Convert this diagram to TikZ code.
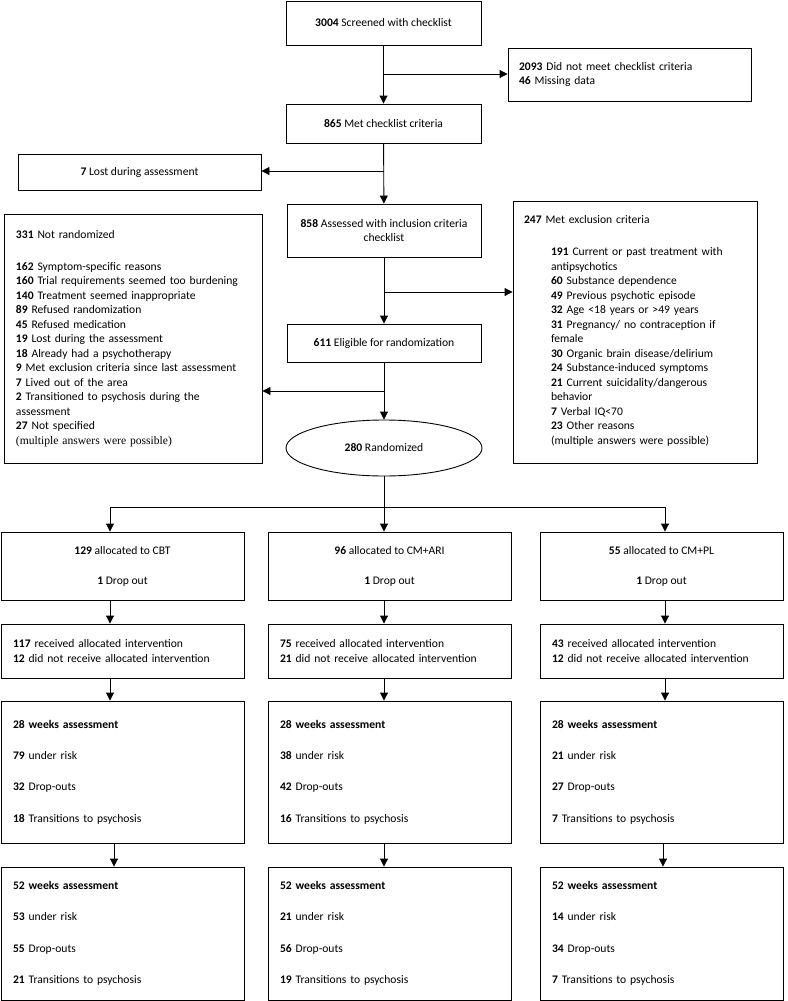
\documentclass[tikz,border=0pt]{standalone}
\usepackage{fontspec}
\setmainfont{Carlito}
\newfontfamily\timesfont{Liberation Serif}
\usetikzlibrary{arrows.meta, shapes.geometric}

\tikzset{
  box/.style={draw, line width=0.9pt, inner sep=0pt, align=center, font=\fontsize{11.6}{14.5}\selectfont},
  listbox/.style={box, align=left, inner xsep=12pt},
  arr/.style={line width=0.9pt, -{Triangle[length=8pt, width=8pt]}},
  link/.style={line width=0.9pt}
}

\begin{document}
\begin{tikzpicture}[x=1pt, y=-1pt]
\useasboundingbox (0,0) rectangle (787,1001);

% Screening
\node[box, minimum width=195pt, minimum height=44pt] (SC) at (383.5,23) {\textbf{3004} Screened with checklist};
\node[listbox, inner xsep=11pt, text width=221pt, minimum height=53pt] (DN) at (629.5,74.5)
  {\textbf{2093} Did not meet checklist criteria\\\textbf{46} Missing data};
\node[box, minimum width=195pt, minimum height=39pt] (MC) at (383.5,123.5) {\textbf{865} Met checklist criteria};
\node[box, minimum width=243pt, minimum height=36pt] (LA) at (139.5,172) {\textbf{7} Lost during assessment};
\node[box, minimum width=194pt, minimum height=53pt] (AS) at (384,230.5)
  {\textbf{858} Assessed with inclusion criteria\\checklist};
\node[box, minimum width=194pt, minimum height=38pt] (EL) at (384,343) {\textbf{611} Eligible for randomization};
\node[box, ellipse, minimum width=196pt, minimum height=56pt] (R) at (384,448) {\textbf{280} Randomized};

% Side boxes
\node[listbox, text width=234pt, minimum height=249pt] (NR) at (133,338.5)
  {\textbf{331} Not randomized\\[17.5pt]
   \textbf{162} Symptom-specific reasons\\
   \textbf{160} Trial requirements seemed too burdening\\
   \textbf{140} Treatment seemed inappropriate\\
   \textbf{89} Refused randomization\\
   \textbf{45} Refused medication\\
   \textbf{19} Lost during the assessment\\
   \textbf{18} Already had a psychotherapy\\
   \textbf{9} Met exclusion criteria since last assessment\\
   \textbf{7} Lived out of the area\\
   \textbf{2} Transitioned to psychosis during the\\
   assessment\\
   \textbf{27} Not specified\\
   {\timesfont (multiple answers were possible)}};
\node[listbox, inner xsep=11pt, text width=222pt, minimum height=262pt] (EX) at (635,332)
  {\textbf{247} Met exclusion criteria\\[17.5pt]
   \hspace*{27pt}\begin{tabular}[t]{@{}l@{}}
   \textbf{191} Current or past treatment with\\
   antipsychotics\\
   \textbf{60} Substance dependence\\
   \textbf{49} Previous psychotic episode\\
   \textbf{32} Age <18 years or >49 years\\
   \textbf{31} Pregnancy/ no contraception if\\
   female\\
   \textbf{30} Organic brain disease/delirium\\
   \textbf{24} Substance-induced symptoms\\
   \textbf{21} Current suicidality/dangerous\\
   behavior\\
   \textbf{7} Verbal IQ<70\\
   \textbf{23} Other reasons\\
   (multiple answers were possible)
   \end{tabular}};

% Allocation
\node[box, minimum width=243pt, minimum height=68pt] (C1) at (122.5,566) {\textbf{129} allocated to CBT\\[15.5pt]\textbf{1} Drop out};
\node[box, minimum width=243pt, minimum height=68pt] (C2) at (389.5,566) {\textbf{96} allocated to CM+ARI\\[15.5pt]\textbf{1} Drop out};
\node[box, minimum width=243pt, minimum height=68pt] (C3) at (661.5,566) {\textbf{55} allocated to CM+PL\\[15.5pt]\textbf{1} Drop out};

\node[listbox, text width=219pt, minimum height=54pt] (I1) at (122.5,651)
  {\textbf{117} received allocated intervention\\\textbf{12} did not receive allocated intervention};
\node[listbox, text width=219pt, minimum height=54pt] (I2) at (389.5,651)
  {\textbf{75} received allocated intervention\\\textbf{21} did not receive allocated intervention};
\node[listbox, text width=219pt, minimum height=54pt] (I3) at (661.5,651)
  {\textbf{43} received allocated intervention\\\textbf{12} did not receive allocated intervention};

% Follow-up
\node[listbox, text width=219pt, minimum height=142pt] (W1) at (122.5,772)
  {\textbf{28 weeks assessment}\\[16.8pt]\textbf{79} under risk\\[16.8pt]\textbf{32} Drop-outs\\[16.8pt]\textbf{18} Transitions to psychosis\\[19pt]};
\node[listbox, text width=219pt, minimum height=142pt] (W2) at (389.5,772)
  {\textbf{28 weeks assessment}\\[16.8pt]\textbf{38} under risk\\[16.8pt]\textbf{42} Drop-outs\\[16.8pt]\textbf{16} Transitions to psychosis\\[19pt]};
\node[listbox, text width=219pt, minimum height=142pt] (W3) at (661.5,772)
  {\textbf{28 weeks assessment}\\[16.8pt]\textbf{21} under risk\\[16.8pt]\textbf{27} Drop-outs\\[16.8pt]\textbf{7} Transitions to psychosis\\[19pt]};

\node[listbox, text width=219pt, minimum height=133pt] (V1) at (122.5,933.5)
  {\textbf{52 weeks assessment}\\[16.8pt]\textbf{53} under risk\\[16.8pt]\textbf{55} Drop-outs\\[16.8pt]\textbf{21} Transitions to psychosis};
\node[listbox, text width=219pt, minimum height=133pt] (V2) at (389.5,933.5)
  {\textbf{52 weeks assessment}\\[16.8pt]\textbf{21} under risk\\[16.8pt]\textbf{56} Drop-outs\\[16.8pt]\textbf{19} Transitions to psychosis};
\node[listbox, text width=219pt, minimum height=133pt] (V3) at (661.5,933.5)
  {\textbf{52 weeks assessment}\\[16.8pt]\textbf{14} under risk\\[16.8pt]\textbf{34} Drop-outs\\[16.8pt]\textbf{7} Transitions to psychosis};

% Branch points
\coordinate (B1) at (384,74);
\coordinate (B2) at (384,171);
\coordinate (B3) at (384,292);
\coordinate (B4) at (384,391);
\coordinate (S1) at (110,507);
\coordinate (S2) at (384,507);
\coordinate (S3) at (665,507);

% Arrows
\draw[arr] (SC) -- (MC);
\draw[arr] (B1) -- (B1 -| DN.west);
\draw[arr] (MC) -- (AS);
\draw[arr] (B2) -- (B2 -| LA.east);
\draw[arr] (AS) -- (EL);
\draw[arr] (B3) -- (B3 -| EX.west);
\draw[arr] (EL) -- (R);
\draw[arr] (B4) -- (B4 -| NR.east);
\draw[arr] (R.south) -- (S2 |- C2.north);
\draw[link] (S1) -- (S3);
\draw[arr] (S1) -- (S1 |- C1.north);
\draw[arr] (S3) -- (S3 |- C3.north);

\draw[arr] (C1.south -| S1) -- (I1.north -| S1);
\draw[arr] (C2.south -| S2) -- (I2.north -| S2);
\draw[arr] (C3.south -| S3) -- (I3.north -| S3);
\draw[arr] (I1.south -| S1) -- (W1.north -| S1);
\draw[arr] (I2.south -| S2) -- (W2.north -| S2);
\draw[arr] (I3.south -| S3) -- (W3.north -| S3);
\draw[arr] ([xshift=4pt]W1.south -| S1) -- ([xshift=4pt]V1.north -| S1);
\draw[arr] (W2.south -| S2) -- (V2.north -| S2);
\draw[arr] ([xshift=-2pt]W3.south -| S3) -- ([xshift=-2pt]V3.north -| S3);

\end{tikzpicture}
\end{document}
